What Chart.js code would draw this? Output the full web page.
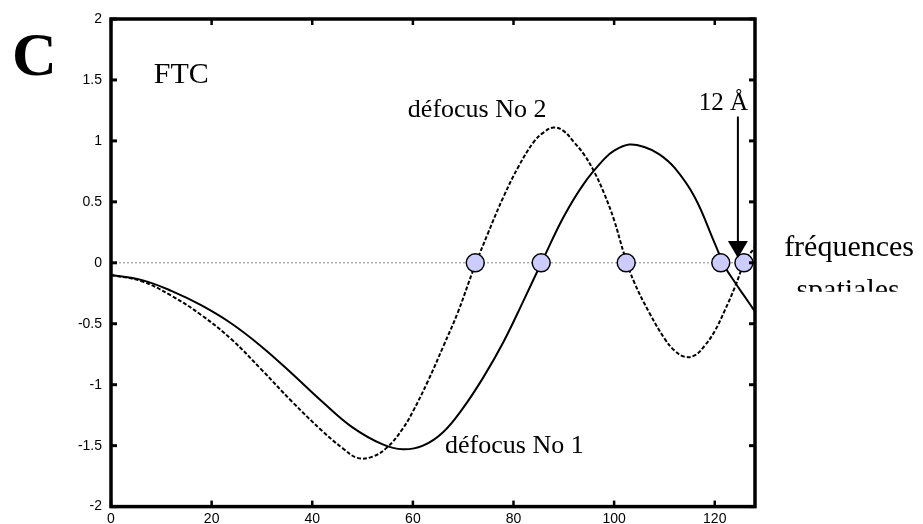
<!DOCTYPE html>
<html>
<head>
<meta charset="utf-8">
<script src="https://cdn.jsdelivr.net/npm/chart.js@4.4.1/dist/chart.umd.min.js"></script>
<style>
  html, body { margin: 0; padding: 0; background: #fff; }
  #wrap { width: 923px; height: 524px; }
</style>
</head>
<body>
<div id="wrap"><canvas id="c" width="923" height="524"></canvas></div>
<script>
// ---- data ----
const freq1 = [0, 6, 12, 18, 24, 30, 36, 42, 48, 54, 58, 62, 66, 70, 74, 78, 82, 86, 90, 94, 98, 100, 103, 106, 109, 112, 116, 120, 122, 124, 126, 128];
const defocus1 = [-0.10, -0.14, -0.23, -0.35, -0.50, -0.69, -0.91, -1.14, -1.35, -1.49, -1.53, -1.50, -1.39, -1.19, -0.94, -0.65, -0.31, 0.04, 0.38, 0.65, 0.85, 0.92, 0.97, 0.95, 0.89, 0.78, 0.54, 0.16, -0.03, -0.16, -0.28, -0.40];

const freq2 = [0, 6, 12, 18, 24, 30, 36, 42, 46, 49, 52, 55, 58, 60, 63, 66, 69, 72, 75, 78, 81, 84, 86, 88, 90, 92, 94, 96, 98, 100, 102, 104, 107, 110, 112, 114, 116, 118, 120, 122, 124, 126, 128];
const defocus2 = [-0.10, -0.15, -0.27, -0.43, -0.63, -0.88, -1.14, -1.38, -1.52, -1.60, -1.59, -1.51, -1.36, -1.22, -0.97, -0.69, -0.40, -0.06, 0.25, 0.54, 0.79, 0.99, 1.07, 1.11, 1.08, 0.99, 0.89, 0.75, 0.57, 0.35, 0.07, -0.16, -0.41, -0.62, -0.72, -0.77, -0.76, -0.68, -0.56, -0.39, -0.20, 0.01, 0.13];

const zeroCrossings = [72.4, 85.5, 102.4, 121.2, 125.8];

const xTickValues = [0, 20, 40, 60, 80, 100, 120];
const yTickValues = [-2, -1.5, -1, -0.5, 0, 0.5, 1, 1.5, 2];

const arrowX = 124.6;       // 12 Å position
const arrowFrom = 1.2;
const arrowTo = 0.04;

// text annotations (data coordinates)
const notes = [
  { text: 'C', x: -19.7, y: 1.54, size: 62, bold: true, align: 'left' },
  { text: 'FTC', x: 8.5, y: 1.475, size: 30, align: 'left' },
  { text: 'défocus No 2', x: 59.0, y: 1.197, size: 26, align: 'left' },
  { text: '12 Å', x: 126.6, y: 1.254, size: 25, align: 'right' },
  { text: 'défocus No 1', x: 66.4, y: -1.557, size: 26, align: 'left' },
  { text: 'fréquences', x: 146.7, y: 0.057, size: 30, align: 'center' },
  { text: 'spatiales', x: 146.5, y: -0.295, size: 30, align: 'center', clipY: -0.238 }
];

const toXY = (xs, ys) => xs.map((x, i) => ({ x: x, y: ys[i] }));

const decor = {
  id: 'decor',
  afterDatasetsDraw(chart) {
    const ctx = chart.ctx;
    const xs = chart.scales.x, ys = chart.scales.y;
    const a = chart.chartArea;
    ctx.save();
    // arrow
    const ax = xs.getPixelForValue(arrowX);
    const ay0 = ys.getPixelForValue(arrowFrom);
    const ay1 = ys.getPixelForValue(arrowTo);
    ctx.strokeStyle = '#000';
    ctx.lineWidth = 2;
    ctx.beginPath();
    ctx.moveTo(ax, ay0);
    ctx.lineTo(ax, ay1 - 14);
    ctx.stroke();
    ctx.fillStyle = '#000';
    ctx.beginPath();
    ctx.moveTo(ax - 10, ay1 - 17);
    ctx.lineTo(ax + 10, ay1 - 17);
    ctx.lineTo(ax, ay1);
    ctx.closePath();
    ctx.fill();

    // frame
    ctx.lineWidth = 3.5;
    ctx.strokeStyle = '#000';
    ctx.strokeRect(a.left, a.top, a.right - a.left, a.bottom - a.top);
    // inner ticks
    ctx.lineWidth = 3;
    yTickValues.forEach(v => {
      const py = ys.getPixelForValue(v);
      ctx.beginPath(); ctx.moveTo(a.left, py); ctx.lineTo(a.left + 6, py); ctx.stroke();
      ctx.beginPath(); ctx.moveTo(a.right, py); ctx.lineTo(a.right - 6, py); ctx.stroke();
    });
    ctx.lineWidth = 2.5;
    xTickValues.forEach(v => {
      const px = xs.getPixelForValue(v);
      ctx.beginPath(); ctx.moveTo(px, a.bottom); ctx.lineTo(px, a.bottom - 6); ctx.stroke();
      ctx.beginPath(); ctx.moveTo(px, a.top); ctx.lineTo(px, a.top + 6); ctx.stroke();
    });

    // texts
    ctx.fillStyle = '#000';
    ctx.textBaseline = 'alphabetic';
    notes.forEach(n => {
      ctx.save();
      ctx.font = (n.bold ? 'bold ' : '') + n.size + 'px "Liberation Serif", "Times New Roman", serif';
      ctx.textAlign = n.align;
      if (n.clipY !== undefined) {
        const cy = ys.getPixelForValue(n.clipY);
        ctx.beginPath();
        ctx.rect(a.right + 2, 0, chart.width - a.right, cy);
        ctx.clip();
      }
      ctx.fillText(n.text, xs.getPixelForValue(n.x), ys.getPixelForValue(n.y));
      ctx.restore();
    });
    ctx.restore();
  }
};

const tickFont = { family: '"Liberation Sans", Arial, sans-serif', size: 14 };

new Chart(document.getElementById('c'), {
  type: 'scatter',
  data: {
    datasets: [
      {
        label: 'zeros',
        data: zeroCrossings.map(x => ({ x: x, y: 0 })),
        pointRadius: 9,
        pointBackgroundColor: 'rgb(204,204,255)',
        pointBorderColor: '#000',
        pointBorderWidth: 1.5,
        showLine: false
      },
      {
        label: 'défocus No 1',
        data: toXY(freq1, defocus1),
        showLine: true,
        borderColor: '#000',
        borderWidth: 2,
        pointRadius: 0,
        tension: 0.4
      },
      {
        label: 'défocus No 2',
        data: toXY(freq2, defocus2),
        showLine: true,
        borderColor: '#000',
        borderWidth: 2,
        borderDash: [4, 2],
        pointRadius: 0,
        tension: 0.4
      },
      {
        label: 'zero',
        data: [{ x: 0, y: 0 }, { x: 128, y: 0 }],
        showLine: true,
        borderColor: '#8a8a8a',
        borderWidth: 1,
        borderDash: [2, 2],
        pointRadius: 0
      }
    ]
  },
  options: {
    responsive: false,
    animation: false,
    layout: { padding: { left: 0, top: 19, right: 168, bottom: 0 } },
    plugins: { legend: { display: false }, tooltip: { enabled: false } },
    scales: {
      x: {
        type: 'linear', position: 'bottom', min: 0, max: 128,
        afterBuildTicks: s => { s.ticks = xTickValues.map(v => ({ value: v })); },
        afterFit: s => { s.height = 17; },
        grid: { display: false, drawTicks: false },
        border: { display: false },
        ticks: { font: tickFont, color: '#000', padding: 4, maxRotation: 0, autoSkip: false,
                 callback: v => String(v) }
      },
      y: {
        type: 'linear', position: 'left', min: -2, max: 2,
        afterBuildTicks: s => { s.ticks = yTickValues.map(v => ({ value: v })); },
        afterFit: s => { s.width = 111; },
        grid: { display: false, drawTicks: false },
        border: { display: false },
        ticks: { font: tickFont, color: '#000', padding: 9, autoSkip: false,
                 callback: v => String(v) }
      }
    }
  },
  plugins: [decor]
});
</script>
</body>
</html>
